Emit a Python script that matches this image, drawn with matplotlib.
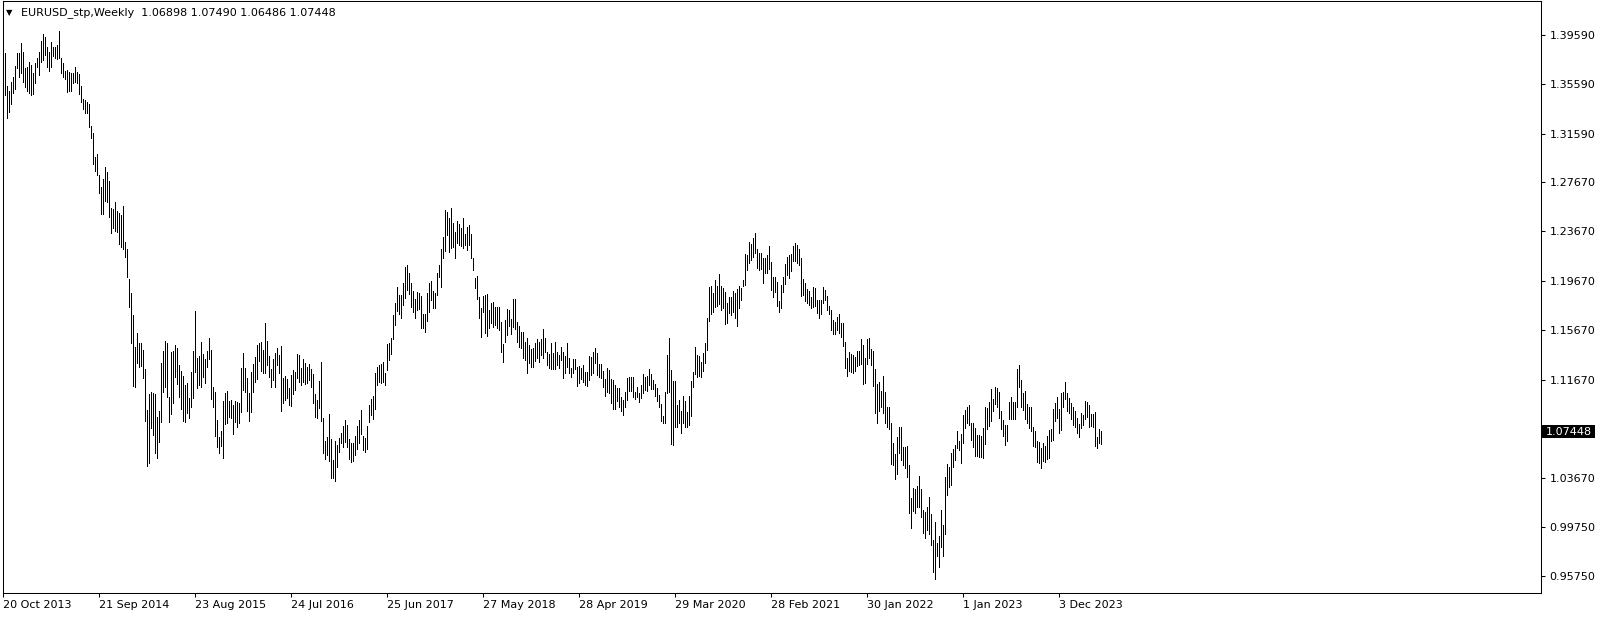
import matplotlib
matplotlib.use("Agg")
import matplotlib.pyplot as plt
import matplotlib.transforms as mtransforms
from matplotlib.patches import Rectangle

# EURUSD weekly bars (first bar = week of 20 Oct 2013)
symbol = "EURUSD_stp,Weekly"
last_ohlc = [1.06898, 1.07490, 1.06486, 1.07448]

highs = [
    # 2013 - early 2015
    1.3822, 1.3809, 1.3544, 1.3504, 1.3574, 1.3615, 1.3706, 1.3814, 1.3814, 1.3890,
    1.3820, 1.3693, 1.3701, 1.3739, 1.3714, 1.3652, 1.3728, 1.3768, 1.3820, 1.3909,
    1.3966, 1.3944, 1.3863, 1.3822, 1.3898, 1.3863, 1.3858, 1.3876, 1.3990, 1.3768,
    1.3728, 1.3669, 1.3674, 1.3660, 1.3647, 1.3647, 1.3695, 1.3655, 1.3641, 1.3544,
    1.3442, 1.3431, 1.3417, 1.3399, 1.3220, 1.3161, 1.2972, 1.2994, 1.2823, 1.2729,
    1.2788, 1.2891, 1.2850, 1.2772, 1.2553, 1.2548, 1.2607, 1.2535, 1.2513, 1.2499,
    1.2572, 1.2283, 1.2221, 1.1978, 1.1870, 1.1689, 1.1433, 1.1541, 1.1460,
    # 2015 - 2016
    1.1465, 1.1406, 1.1252, 1.0920, 1.1050, 1.1066, 1.1055, 1.1050, 1.0866, 1.0915,
    1.1303, 1.1398, 1.1479, 1.1460, 1.1028, 1.1392, 1.1400, 1.1446, 1.1425, 1.1284,
    1.1236, 1.1198, 1.1122, 1.1141, 1.1014, 1.1230, 1.1400, 1.1725, 1.1338, 1.1357,
    1.1473, 1.1371, 1.1330, 1.1398, 1.1506, 1.1406, 1.1109, 1.1063, 1.0839, 1.0699,
    1.0753, 1.0993, 1.1055, 1.1074, 1.0993, 1.1001, 1.0960, 1.0993, 1.0987, 1.0974,
    1.1257, 1.1384, 1.1257, 1.1176, 1.1060, 1.1230, 1.1292, 1.1352, 1.1446, 1.1465,
    1.1473, 1.1406, 1.1622, 1.1476, 1.1360, 1.1252, 1.1330, 1.1384, 1.1425, 1.1365,
    # 2016 - 2017
    1.1438, 1.1176, 1.1195, 1.1171, 1.1095, 1.1203, 1.1244, 1.1230, 1.1373, 1.1365,
    1.1257, 1.1333, 1.1298, 1.1271, 1.1290, 1.1252, 1.1212, 1.1050, 1.1001, 1.1155,
    1.1306, 1.0852, 1.0669, 1.0704, 1.0888, 1.0682, 1.0515, 1.0669, 1.0636, 1.0690,
    1.0736, 1.0790, 1.0839, 1.0798, 1.0682, 1.0650, 1.0650, 1.0712, 1.0790, 1.0839,
    1.0920, 1.0709, 1.0690, 1.0790, 1.0960, 1.1006, 1.1033, 1.1222, 1.1266, 1.1284,
    1.1293, 1.1306, 1.1217, 1.1452, 1.1460, 1.1500, 1.1689, 1.1784, 1.1914, 1.1851,
    1.1851, 1.1951, 1.2081, 1.2094, 1.2027, 1.1946, 1.1887, 1.1816, 1.1878, 1.1870,
    # 2017 - 2019
    1.1846, 1.1698, 1.1695, 1.1865, 1.1946, 1.1965, 1.1884, 1.1865, 1.2027, 1.2094,
    1.2224, 1.2324, 1.2540, 1.2526, 1.2478, 1.2553, 1.2432, 1.2364, 1.2451, 1.2424,
    1.2397, 1.2478, 1.2343, 1.2405, 1.2418, 1.2346, 1.2148, 1.1986, 1.2005, 1.1838,
    1.1743, 1.1843, 1.1851, 1.1860, 1.1730, 1.1789, 1.1792, 1.1757, 1.1757, 1.1757,
    1.1635, 1.1455, 1.1649, 1.1738, 1.1730, 1.1654, 1.1816, 1.1816, 1.1635, 1.1600,
    1.1554, 1.1554, 1.1474, 1.1506, 1.1446, 1.1414, 1.1419, 1.1465, 1.1495, 1.1474,
    1.1495, 1.1576, 1.1500, 1.1392, 1.1371, 1.1460, 1.1379, 1.1474, 1.1392, 1.1365,
    # 2019 - 2020
    1.1428, 1.1392, 1.1357, 1.1460, 1.1338, 1.1257, 1.1330, 1.1330, 1.1271, 1.1276,
    1.1257, 1.1284, 1.1230, 1.1225, 1.1357, 1.1352, 1.1392, 1.1420, 1.1384, 1.1293,
    1.1293, 1.1236, 1.1171, 1.1257, 1.1244, 1.1171, 1.1163, 1.1122, 1.1095, 1.1095,
    1.1028, 1.1001, 1.1068, 1.1182, 1.1190, 1.1190, 1.1190, 1.1068, 1.1103, 1.1055,
    1.1122, 1.1209, 1.1190, 1.1195, 1.1249, 1.1209, 1.1163, 1.1131, 1.1095, 1.1041,
    1.0966, 1.0871, 1.1068, 1.1365, 1.1500, 1.1244, 1.1157, 1.1157, 1.0960, 1.1001,
    1.0912, 1.1033, 1.0993, 1.0906, 1.1033, 1.1157, 1.1230, 1.1428, 1.1365, 1.1360,
    # 2020 - 2021
    1.1311, 1.1384, 1.1465, 1.1668, 1.1919, 1.1927, 1.1870, 1.1973, 1.1927, 1.2019,
    1.1927, 1.1911, 1.1878, 1.1784, 1.1838, 1.1838, 1.1884, 1.1865, 1.1900, 1.1927,
    1.1905, 1.1973, 1.2184, 1.2175, 1.2278, 1.2262, 1.2316, 1.2351, 1.2224, 1.2194,
    1.2189, 1.2148, 1.2154, 1.2175, 1.2248, 1.2121, 1.1999, 1.1994, 1.1959, 1.1803,
    1.1932, 1.1999, 1.2100, 1.2162, 1.2175, 1.2181, 1.2248, 1.2270, 1.2256, 1.2224,
    1.2154, 1.1981, 1.1946, 1.1900, 1.1884, 1.1838, 1.1919, 1.1911, 1.1811, 1.1811,
    1.1811, 1.1919, 1.1892, 1.1846, 1.1765, 1.1730, 1.1649, 1.1635, 1.1676, 1.1698,
    # 2021 - 2023
    1.1622, 1.1622, 1.1473, 1.1344, 1.1392, 1.1371, 1.1365, 1.1352, 1.1400, 1.1398,
    1.1495, 1.1446, 1.1338, 1.1495, 1.1500, 1.1411, 1.1400, 1.1249, 1.1131, 1.1149,
    1.1077, 1.1195, 1.1068, 1.0947, 1.0947, 1.0817, 1.0655, 1.0564, 1.0704, 1.0780,
    1.0785, 1.0623, 1.0617, 1.0631, 1.0474, 1.0204, 1.0291, 1.0277, 1.0304, 1.0388,
    1.0277, 1.0110, 1.0096, 1.0131, 1.0218, 1.0078, 0.9867, 1.0016, 0.9840, 0.9899,
    1.0110, 0.9988, 1.0380, 1.0483, 1.0461, 1.0569, 1.0601, 1.0636, 1.0753, 1.0672,
    1.0726, 1.0879, 1.0920, 1.0947, 1.0960, 1.0812, 1.0812, 1.0771, 1.0717, 1.0717,
    # 2023 - 2024
    1.0709, 1.0771, 1.0947, 1.0933, 1.0987, 1.1087, 1.1006, 1.1104, 1.1095, 1.1063,
    1.0912, 1.0839, 1.0798, 1.0798, 1.0982, 1.1022, 1.0982, 1.0982, 1.1249, 1.1284,
    1.1163, 1.1055, 1.1074, 1.0966, 1.0947, 1.0947, 1.0780, 1.0753, 1.0672, 1.0663,
    1.0609, 1.0650, 1.0628, 1.0709, 1.0758, 1.0763, 1.0928, 1.0979, 1.1028, 1.0928,
    1.1055, 1.1068, 1.1147, 1.1060, 1.1014, 1.0974, 1.0947, 1.0912, 1.0858, 1.0806,
    1.0898, 1.0879, 1.0993, 1.0982, 1.0960, 1.0888, 1.0885, 1.0901, 1.0704, 1.0763,
    1.07490,
]

lows = [
    1.3768, 1.3471, 1.3288, 1.3336, 1.3396, 1.3485, 1.3517, 1.3687, 1.3620, 1.3652,
    1.3579, 1.3539, 1.3504, 1.3490, 1.3471, 1.3477, 1.3566, 1.3701, 1.3633, 1.3741,
    1.3755, 1.3795, 1.3701, 1.3669, 1.3701, 1.3787, 1.3774, 1.3760, 1.3768, 1.3647,
    1.3615, 1.3598, 1.3498, 1.3504, 1.3504, 1.3566, 1.3574, 1.3566, 1.3480, 1.3417,
    1.3355, 1.3328, 1.3328, 1.3215, 1.3126, 1.2913, 1.2859, 1.2823, 1.2675, 1.2505,
    1.2508, 1.2613, 1.2607, 1.2486, 1.2356, 1.2391, 1.2373, 1.2364, 1.2265, 1.2243,
    1.2221, 1.2162, 1.2000, 1.1757, 1.1465, 1.1114, 1.1103, 1.1298, 1.1271,
    1.1276, 1.1182, 1.0834, 1.0469, 1.0488, 1.0777, 1.0717, 1.0574, 1.0528, 1.0663,
    1.0825, 1.1068, 1.1109, 1.1028, 1.0825, 1.0888, 1.0974, 1.1185, 1.1131, 1.1028,
    1.0925, 1.0834, 1.0820, 1.0898, 1.0858, 1.0942, 1.1020, 1.1230, 1.1095, 1.1122,
    1.1109, 1.1185, 1.1141, 1.1266, 1.1330, 1.1006, 1.0947, 1.0712, 1.0623, 1.0574,
    1.0628, 1.0528, 1.0804, 1.0812, 1.0861, 1.0852, 1.0723, 1.0825, 1.0785, 1.0812,
    1.0906, 1.1082, 1.1068, 1.0915, 1.0834, 1.0901, 1.1068, 1.1149, 1.1168, 1.1320,
    1.1239, 1.1222, 1.1222, 1.1284, 1.1190, 1.1103, 1.1163, 1.1109, 1.1284, 1.1217,
    1.0915, 1.0979, 1.1001, 1.1014, 1.0960, 1.0955, 1.1050, 1.1082, 1.1176, 1.1149,
    1.1122, 1.1149, 1.1128, 1.1136, 1.1163, 1.1109, 1.0974, 1.0866, 1.0858, 1.0933,
    1.0834, 1.0574, 1.0520, 1.0555, 1.0510, 1.0366, 1.0366, 1.0348, 1.0461, 1.0582,
    1.0655, 1.0623, 1.0663, 1.0623, 1.0520, 1.0501, 1.0507, 1.0555, 1.0601, 1.0655,
    1.0723, 1.0596, 1.0582, 1.0604, 1.0825, 1.0879, 1.0844, 1.0928, 1.1122, 1.1149,
    1.1141, 1.1144, 1.1122, 1.1244, 1.1325, 1.1374, 1.1492, 1.1608, 1.1725, 1.1698,
    1.1668, 1.1770, 1.1830, 1.1892, 1.1857, 1.1752, 1.1716, 1.1668, 1.1730, 1.1735,
    1.1581, 1.1587, 1.1554, 1.1641, 1.1716, 1.1811, 1.1743, 1.1743, 1.1851, 1.2000,
    1.1919, 1.2148, 1.2208, 1.2337, 1.2202, 1.2229, 1.2243, 1.2154, 1.2270, 1.2256,
    1.2251, 1.2229, 1.2256, 1.2216, 1.2256, 1.2148, 1.2054, 1.1911, 1.1819, 1.1662,
    1.1514, 1.1711, 1.1546, 1.1519, 1.1581, 1.1622, 1.1595, 1.1608, 1.1587, 1.1568,
    1.1392, 1.1306, 1.1474, 1.1528, 1.1600, 1.1533, 1.1595, 1.1576, 1.1474, 1.1433,
    1.1419, 1.1344, 1.1325, 1.1222, 1.1298, 1.1271, 1.1271, 1.1317, 1.1338, 1.1311,
    1.1365, 1.1338, 1.1392, 1.1284, 1.1257, 1.1252, 1.1252, 1.1252, 1.1284, 1.1257,
    1.1325, 1.1176, 1.1222, 1.1271, 1.1217, 1.1190, 1.1217, 1.1249, 1.1114, 1.1141,
    1.1168, 1.1149, 1.1122, 1.1114, 1.1163, 1.1203, 1.1217, 1.1298, 1.1203, 1.1190,
    1.1176, 1.1109, 1.1033, 1.1068, 1.1060, 1.0974, 1.0928, 1.0928, 1.0996, 1.0947,
    1.0912, 1.0879, 1.0947, 1.1001, 1.1077, 1.1074, 1.1023, 1.1006, 1.1023, 1.0987,
    1.1014, 1.1055, 1.1082, 1.1074, 1.1122, 1.1090, 1.1090, 1.1033, 1.0996, 1.0947,
    1.0834, 1.0812, 1.0812, 1.1055, 1.1068, 1.0645, 1.0636, 1.0780, 1.0780, 1.0817,
    1.0736, 1.0817, 1.0780, 1.0785, 1.0798, 1.0871, 1.1109, 1.1211, 1.1190, 1.1198,
    1.1190, 1.1236, 1.1303, 1.1406, 1.1641, 1.1698, 1.1711, 1.1757, 1.1765, 1.1776,
    1.1730, 1.1749, 1.1614, 1.1622, 1.1703, 1.1689, 1.1716, 1.1662, 1.1603, 1.1749,
    1.1811, 1.1927, 1.1932, 1.2054, 1.2113, 1.2135, 1.2162, 1.2189, 1.2073, 1.2054,
    1.2059, 1.1951, 1.2027, 1.2027, 1.2059, 1.1892, 1.1838, 1.1878, 1.1765, 1.1711,
    1.1743, 1.1873, 1.1941, 1.2013, 1.1986, 1.2046, 1.2130, 1.2130, 1.2108, 1.2094,
    1.1846, 1.1851, 1.1803, 1.1789, 1.1770, 1.1743, 1.1757, 1.1765, 1.1708, 1.1668,
    1.1695, 1.1784, 1.1811, 1.1730, 1.1695, 1.1568, 1.1533, 1.1533, 1.1568, 1.1541,
    1.1514, 1.1438, 1.1257, 1.1195, 1.1236, 1.1230, 1.1222, 1.1238, 1.1276, 1.1284,
    1.1293, 1.1131, 1.1141, 1.1293, 1.1338, 1.1284, 1.1114, 1.0893, 1.0812, 1.0915,
    1.0947, 1.0898, 1.0817, 1.0785, 1.0766, 1.0483, 1.0474, 1.0358, 1.0402, 1.0569,
    1.0515, 1.0474, 1.0447, 1.0380, 1.0083, 0.9961, 1.0105, 1.0088, 1.0137, 1.0137,
    1.0051, 0.9921, 0.9880, 0.9948, 0.9916, 0.9826, 0.9610, 0.9551, 0.9737, 0.9646,
    0.9813, 0.9737, 0.9916, 1.0231, 1.0299, 1.0312, 1.0461, 1.0515, 1.0609, 1.0596,
    1.0493, 1.0650, 1.0771, 1.0812, 1.0798, 1.0677, 1.0623, 1.0547, 1.0547, 1.0542,
    1.0537, 1.0528, 1.0642, 1.0763, 1.0790, 1.0833, 1.0912, 1.0969, 1.0947, 1.0852,
    1.0766, 1.0712, 1.0637, 1.0672, 1.0844, 1.0844, 1.0844, 1.0844, 1.0947, 1.1109,
    1.0947, 1.0920, 1.0844, 1.0812, 1.0771, 1.0750, 1.0628, 1.0623, 1.0496, 1.0488,
    1.0453, 1.0509, 1.0501, 1.0523, 1.0528, 1.0669, 1.0677, 1.0831, 1.0858, 1.0731,
    1.0758, 1.0947, 1.1006, 1.0912, 1.0893, 1.0844, 1.0798, 1.0780, 1.0731, 1.0704,
    1.0771, 1.0798, 1.0844, 1.0866, 1.0780, 1.0790, 1.0780, 1.0631, 1.0609, 1.0650,
    1.06486,
]

date_labels = ["20 Oct 2013", "21 Sep 2014", "23 Aug 2015", "24 Jul 2016",
               "25 Jun 2017", "27 May 2018", "28 Apr 2019", "29 Mar 2020",
               "28 Feb 2021", "30 Jan 2022", "1 Jan 2023", "3 Dec 2023"]
bars_per_label = 48

price_ticks = [1.39590, 1.35590, 1.31590, 1.27670, 1.23670, 1.19670,
               1.15670, 1.11670, 1.03670, 0.99750, 0.95750]

W, H = 1604, 617
fig = plt.figure(figsize=(W / 100, H / 100), dpi=100)
ax = fig.add_axes([2.7 / W, 24 / H, 1538 / W, 592 / H])

n = len(highs)
# 1-pixel wide bars, 2 px apart
ax.vlines(range(n), lows, highs, colors="black", linewidth=0.6, antialiased=False)

ax.set_xlim(-0.3, 768.7)
ax.set_ylim(0.94382, 1.42327)

for s in ax.spines.values():
    s.set_linewidth(0.75)
    s.set_color("black")

ax.set_xticks([k * bars_per_label for k in range(len(date_labels))])
ax.set_xticklabels(date_labels, ha="left")
ax.tick_params(axis="x", direction="out", length=3, width=0.75, pad=2, labelsize=8)

ax.yaxis.tick_right()
ax.set_yticks(price_ticks)
ax.set_yticklabels([f"{p:.5f}" for p in price_ticks])
ax.tick_params(axis="y", direction="out", length=3, width=0.75, pad=3.5, labelsize=8)

# current price box on the price scale
last_close = last_ohlc[3]
trans = mtransforms.blended_transform_factory(ax.transAxes, ax.transData)
box_h = 13 * (1.42327 - 0.94382) / 592
ax.add_patch(Rectangle((1.0 + 1 / 1538, last_close - box_h / 2), 53 / 1538, box_h,
                       transform=trans, facecolor="black", edgecolor="none", clip_on=False))
ax.text(1.0 + 5 / 1538, last_close, f"{last_close:.5f}", transform=trans,
        color="white", fontsize=8, va="center", ha="left", clip_on=False)

# header
fig.text(6 / W, 1 - 12.5 / H, "\u25bc", fontsize=6, va="center", ha="left")
fig.text(21 / W, 1 - 12.5 / H,
         symbol + "  " + " ".join(f"{v:.5f}" for v in last_ohlc),
         fontsize=8, va="center", ha="left")

fig.savefig("out.png", dpi=100)
